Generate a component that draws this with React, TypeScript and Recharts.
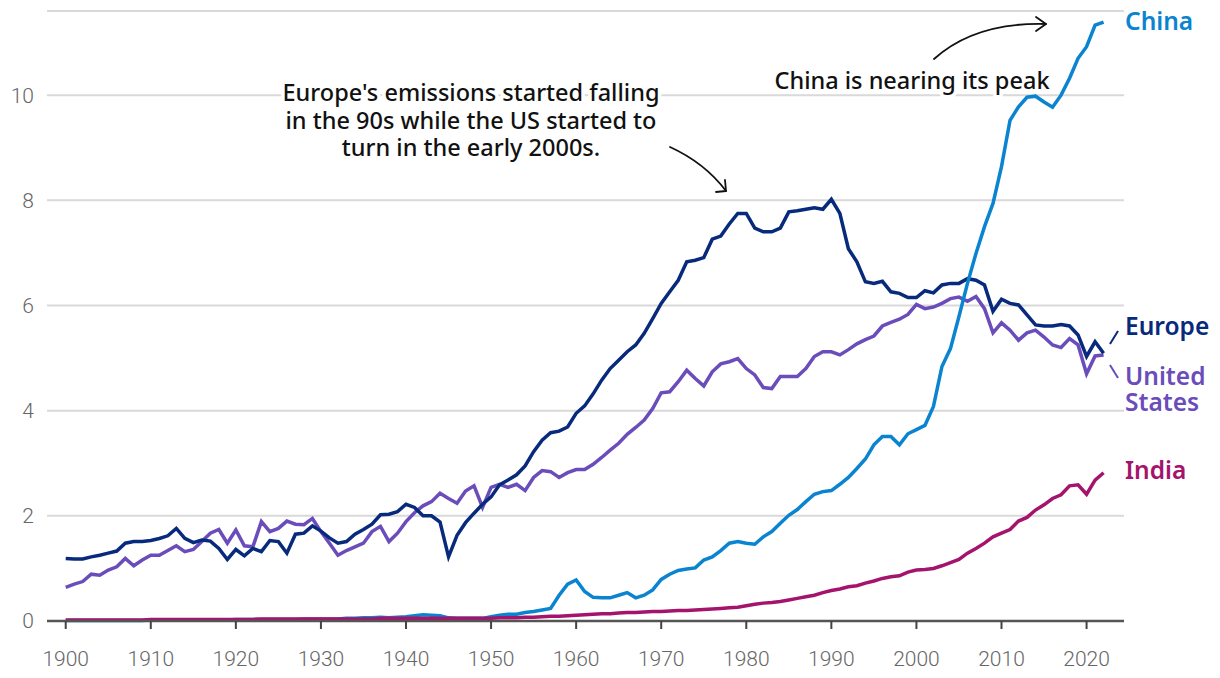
import { CartesianGrid, Line, LineChart, XAxis, YAxis } from "recharts";

const firstYear = 1900;

const europe = [
  1.19, 1.18, 1.18, 1.22, 1.25, 1.29, 1.33, 1.48, 1.51, 1.51,
  1.53, 1.57, 1.62, 1.76, 1.57, 1.49, 1.54, 1.52, 1.38, 1.17,
  1.36, 1.24, 1.38, 1.32, 1.53, 1.51, 1.29, 1.65, 1.67, 1.81,
  1.71, 1.58, 1.48, 1.51, 1.65, 1.74, 1.84, 2.02, 2.03, 2.08,
  2.22, 2.16, 2.0, 2.0, 1.88, 1.22, 1.63, 1.87, 2.05, 2.22,
  2.36, 2.59, 2.68, 2.78, 2.95, 3.22, 3.44, 3.58, 3.61, 3.69,
  3.95, 4.09, 4.32, 4.58, 4.8, 4.96, 5.12, 5.25, 5.47, 5.75,
  6.04, 6.26, 6.48, 6.83, 6.86, 6.91, 7.26, 7.32, 7.55, 7.75,
  7.75, 7.47, 7.4, 7.4, 7.47, 7.78, 7.8, 7.83, 7.86, 7.83,
  8.02, 7.75, 7.08, 6.83, 6.45, 6.42, 6.46, 6.26, 6.23, 6.15,
  6.15, 6.28, 6.24, 6.39, 6.42, 6.42, 6.51, 6.48, 6.39, 5.89,
  6.12, 6.04, 6.01, 5.82, 5.63, 5.61, 5.61, 5.64, 5.61, 5.44,
  5.03, 5.31, 5.09
];

const unitedStates = [
  0.64, 0.7, 0.75, 0.89, 0.87, 0.97, 1.03, 1.19, 1.05, 1.16,
  1.25, 1.25, 1.34, 1.43, 1.32, 1.36, 1.51, 1.67, 1.74, 1.48,
  1.73, 1.43, 1.41, 1.89, 1.7, 1.76, 1.9, 1.84, 1.83, 1.95,
  1.7, 1.48, 1.25, 1.34, 1.41, 1.48, 1.7, 1.8, 1.51, 1.67,
  1.89, 2.06, 2.19, 2.27, 2.43, 2.33, 2.24, 2.47, 2.57, 2.16,
  2.54, 2.6, 2.54, 2.6, 2.48, 2.73, 2.86, 2.84, 2.73, 2.82,
  2.88, 2.88, 2.98, 3.11, 3.25, 3.38, 3.55, 3.68, 3.82, 4.04,
  4.34, 4.36, 4.55, 4.77, 4.61, 4.47, 4.74, 4.89, 4.93, 4.99,
  4.8, 4.68, 4.44, 4.42, 4.65, 4.65, 4.65, 4.8, 5.03, 5.12,
  5.12, 5.06, 5.16, 5.27, 5.35, 5.42, 5.61, 5.68, 5.74, 5.83,
  6.02, 5.94, 5.97, 6.04, 6.13, 6.16, 6.08, 6.17, 5.94, 5.48,
  5.67, 5.53, 5.34, 5.48, 5.53, 5.4, 5.25, 5.2, 5.37, 5.25,
  4.7, 5.04, 5.06
];

const china = [
  0.01, 0.01, 0.01, 0.01, 0.01, 0.01, 0.01, 0.01, 0.01, 0.01,
  0.02, 0.02, 0.02, 0.02, 0.02, 0.02, 0.02, 0.02, 0.02, 0.02,
  0.03, 0.03, 0.03, 0.03, 0.03, 0.03, 0.03, 0.03, 0.04, 0.04,
  0.04, 0.04, 0.04, 0.05, 0.05, 0.06, 0.06, 0.07, 0.06, 0.07,
  0.08, 0.1, 0.12, 0.11, 0.1, 0.06, 0.05, 0.05, 0.05, 0.05,
  0.08, 0.11, 0.13, 0.13, 0.16, 0.18, 0.21, 0.24, 0.49, 0.7,
  0.78, 0.56, 0.45, 0.44, 0.44, 0.49, 0.54, 0.44, 0.49, 0.59,
  0.79, 0.89, 0.96, 0.99, 1.01, 1.16, 1.22, 1.34, 1.48, 1.51,
  1.48, 1.46, 1.6, 1.7, 1.86, 2.01, 2.12, 2.27, 2.41, 2.46,
  2.48, 2.6, 2.73, 2.9, 3.08, 3.35, 3.51, 3.51, 3.35, 3.56,
  3.64, 3.72, 4.08, 4.84, 5.18, 5.79, 6.42, 6.99, 7.5, 7.94,
  8.64, 9.52, 9.78, 9.96, 9.98, 9.87, 9.77, 10.0, 10.32, 10.7,
  10.92, 11.33, 11.39
];

const india = [
  0.02, 0.02, 0.02, 0.02, 0.02, 0.02, 0.02, 0.02, 0.02, 0.02,
  0.03, 0.03, 0.03, 0.03, 0.03, 0.03, 0.03, 0.03, 0.03, 0.03,
  0.03, 0.03, 0.03, 0.04, 0.04, 0.04, 0.04, 0.04, 0.04, 0.04,
  0.04, 0.04, 0.04, 0.04, 0.04, 0.04, 0.04, 0.05, 0.05, 0.05,
  0.05, 0.05, 0.05, 0.05, 0.05, 0.05, 0.05, 0.05, 0.05, 0.05,
  0.05, 0.06, 0.06, 0.06, 0.07, 0.07, 0.08, 0.09, 0.09, 0.1,
  0.11, 0.12, 0.13, 0.14, 0.14, 0.15, 0.16, 0.16, 0.17, 0.18,
  0.18, 0.19, 0.2, 0.2, 0.21, 0.22, 0.23, 0.24, 0.25, 0.26,
  0.29, 0.32, 0.34, 0.35, 0.37, 0.4, 0.43, 0.46, 0.49, 0.54,
  0.58, 0.61, 0.65, 0.67, 0.72, 0.76, 0.81, 0.84, 0.86, 0.93,
  0.97, 0.98, 1.0, 1.05, 1.11, 1.17, 1.29, 1.38, 1.48, 1.6,
  1.67, 1.74, 1.9, 1.97, 2.11, 2.21, 2.33, 2.4, 2.57, 2.59,
  2.41, 2.68, 2.82
];

const xTicks = [1900, 1910, 1920, 1930, 1940, 1950, 1960, 1970, 1980, 1990, 2000, 2010, 2020];
const yTicks = [0, 2, 4, 6, 8, 10];

const data = europe.map((value, i) => ({
  year: firstYear + i,
  europe: value,
  us: unitedStates[i],
  china: china[i],
  india: india[i]
}));

const COLORS = {
  europe: "#082a7c",
  us: "#6a4dba",
  china: "#0a84d0",
  india: "#a4146c"
};

const labelFont = "'Noto Sans', sans-serif";
const axisTick = { fill: "#666", fontSize: 21, fontFamily: "Roboto", fontWeight: 300 };

export default function App() {
  return (
    <div style={{ position: "relative", width: 1212, height: 662 }}>
      <LineChart
        width={1212}
        height={662}
        data={data}
        margin={{ top: 3, right: 96, bottom: 0, left: 0 }}
      >
        <CartesianGrid vertical={false} stroke="#d9d9d9" strokeWidth={2} />
        <XAxis
          dataKey="year"
          type="number"
          domain={[1897.8, 2024.4]}
          ticks={xTicks}
          height={49}
          axisLine={{ stroke: "#555", strokeWidth: 2.5 }}
          tickLine={{ stroke: "#444", strokeWidth: 2 }}
          tickSize={8}
          tickMargin={22}
          tick={axisTick}
        />
        <YAxis
          domain={[0, 11.6]}
          ticks={yTicks}
          width={39}
          axisLine={false}
          tickLine={false}
          tickSize={0}
          tickMargin={13}
          tick={axisTick}
        />
        <Line type="linear" dataKey="us" stroke={COLORS.us} strokeWidth={3.5} dot={false} isAnimationActive={false} />
        <Line type="linear" dataKey="europe" stroke={COLORS.europe} strokeWidth={3.5} dot={false} isAnimationActive={false} />
        <Line type="linear" dataKey="china" stroke={COLORS.china} strokeWidth={3.5} dot={false} isAnimationActive={false} />
        <Line type="linear" dataKey="india" stroke={COLORS.india} strokeWidth={3.5} dot={false} isAnimationActive={false} />
      </LineChart>

      {/* annotations + end labels, in page coordinates */}
      <svg
        width={1220}
        height={678}
        style={{ position: "absolute", left: -8, top: -8, pointerEvents: "none" }}
      >
        <g
          fontFamily={labelFont}
          fontSize={23.5}
          fontWeight={500}
          fill="#111"
          textAnchor="middle"
          stroke="#fff"
          strokeWidth={7}
          strokeLinejoin="round"
          paintOrder="stroke"
        >
          <text x={471}>
            <tspan x={471} y={101}>Europe's emissions started falling</tspan>
            <tspan x={471} y={128.5}>in the 90s while the US started to</tspan>
            <tspan x={471} y={156}>turn in the early 2000s.</tspan>
          </text>
          <text x={912} y={89}>China is nearing its peak</text>
        </g>

        <g fill="none" stroke="#111" strokeWidth={1.8} strokeLinecap="round" strokeLinejoin="round">
          <path d="M670,147 Q705,163 726,191" />
          <path d="M716,192 L726,191 L725,180" />
          <path d="M934,59 Q975,22 1046,24" />
          <path d="M1036,17 L1046,24 L1036,31" />
        </g>

        <g fontFamily={labelFont} fontSize={24.5} fontWeight={600}>
          <text x={1125} y={30} fill={COLORS.china}>China</text>
          <text x={1125} y={335} fill={COLORS.europe}>Europe</text>
          <text fill={COLORS.us}>
            <tspan x={1125} y={385}>United</tspan>
            <tspan x={1125} y={411}>States</tspan>
          </text>
          <text x={1125} y={479} fill={COLORS.india}>India</text>
        </g>
        <line x1={1110} y1={344} x2={1118} y2={331} stroke={COLORS.europe} strokeWidth={2} />
        <line x1={1110} y1={365} x2={1118} y2={378} stroke={COLORS.us} strokeWidth={2} />
      </svg>
    </div>
  );
}
